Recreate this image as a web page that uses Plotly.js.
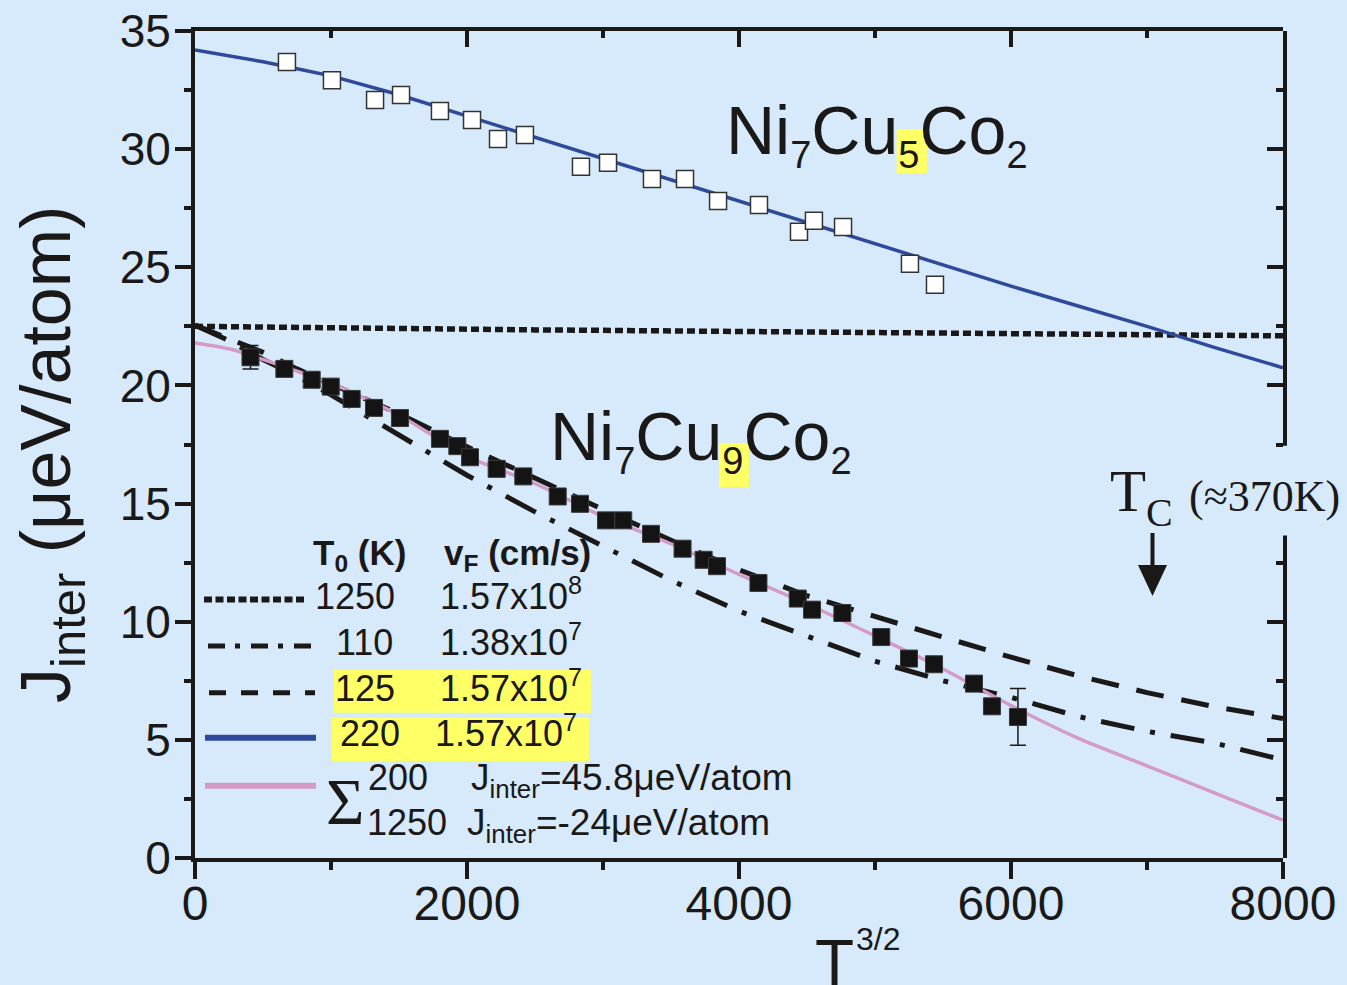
<!DOCTYPE html>
<html><head><meta charset="utf-8">
<script src="https://cdn.plot.ly/plotly-3.0.1.min.js"></script>
<style>html,body{margin:0;padding:0;background:rgb(214,234,252);} #chart{width:1347px;height:985px;}</style>
</head><body><div id="chart"></div>
<script>
// ---------------- data ----------------
const fitT32  = [0,250,500,750,1000,1500,2000,2500,3000,3500,4000,4500,5000,5500,6000,6500,7000,7500,8000];
const fit1250 = [22.50,22.48,22.46,22.45,22.43,22.40,22.37,22.35,22.33,22.31,22.29,22.27,22.25,22.23,22.21,22.18,22.15,22.12,22.10];
const fit110  = [22.55,21.9,21.1,20.4,19.6,17.9,16.2,14.65,13.2,11.75,10.45,9.4,8.33,7.5,6.8,5.98,5.36,4.86,4.15];
const fit125  = [22.55,22.0,21.4,20.7,20.05,18.8,17.4,16.05,14.75,13.45,12.2,11.1,10.2,9.35,8.5,7.7,7.0,6.4,5.9];
const fit220  = [34.2,33.95,33.7,33.4,33.1,32.3,31.4,30.5,29.6,28.7,27.8,26.9,26.0,25.1,24.2,23.35,22.5,21.6,20.75];
const fitSum  = [21.8,21.55,21.1,20.6,20.1,18.75,17.0,15.85,14.45,13.3,12.0,10.75,9.4,8.0,6.45,5.05,3.9,2.75,1.6];

const cu5T32 = [676,1007,1324,1515,1801,2037,2228,2426,2838,3037,3360,3603,3846,4147,4441,4551,4765,5257,5441];
const cu5J   = [33.69,32.92,32.08,32.29,31.61,31.23,30.43,30.60,29.25,29.42,28.74,28.74,27.81,27.64,26.50,26.97,26.71,25.15,24.26];

const cu9T32 = [408,657,858,998,1152,1316,1507,1801,1929,2022,2218,2414,2667,2831,3022,3149,3353,3585,3740,3838,4143,4432,4537,4760,5046,5250,5434,5728,5860,6051];
const cu9J   = [21.19,20.70,20.24,19.95,19.43,19.05,18.62,17.74,17.43,16.96,16.47,16.15,15.30,14.99,14.29,14.29,13.72,13.09,12.62,12.35,11.64,10.98,10.51,10.37,9.35,8.44,8.20,7.38,6.42,5.97];
const cu9Err = [0.5,NaN,NaN,NaN,NaN,NaN,NaN,NaN,NaN,NaN,NaN,NaN,NaN,NaN,NaN,NaN,NaN,NaN,NaN,NaN,NaN,NaN,NaN,NaN,NaN,NaN,NaN,NaN,NaN,1.2];

const yTickVals = [0,5,10,15,20,25,30,35];
const yTickText = ['0','5','10','15','20','25','30','35'];
const xTickVals = [0,2000,4000,6000,8000];
const xTickText = ['0','2000','4000','6000','8000'];
const rightMajor = [0,5,10,20,25,30,35];
const rightMinor = [2.5,7.5,12.5,17.5,22.5,27.5,32.5];

// ---------------- style / geometry ----------------
const BG = 'rgb(214,234,252)';
const INK = '#1b1818';
const BLUE = '#2f4a9b';
const PINK = '#d49bc6';
const YEL = '#ffff66';
const L = 195, R = 1283, T = 31, B = 858;
const px = p => (p - L) / (R - L);
const py = p => (B - p) / (B - T);

function txt(text, left, base, fs, o) {
  o = o || {};
  const serif = !!o.serif;
  const asc = serif ? 0.891 : 0.905, desc = serif ? 0.216 : 0.212;
  const hasSub = text.indexOf('<sub>') >= 0;
  return {
    text: text, xref: 'paper', yref: 'paper',
    x: px(left), y: py(hasSub ? base - asc * fs : base + desc * fs),
    xanchor: 'left', yanchor: hasSub ? 'top' : 'bottom',
    showarrow: false, borderpad: 0, borderwidth: 0,
    font: {family: serif ? 'Liberation Serif' : 'Liberation Sans', size: fs, color: INK, weight: o.bold ? 'bold' : 'normal'}
  };
}
function hline(x0, x1, y, color, width, dash) {
  return {type: 'line', xref: 'paper', yref: 'paper', x0: px(x0), x1: px(x1), y0: py(y), y1: py(y),
          line: {color: color, width: width, dash: dash || 'solid'}, layer: 'above'};
}
function rect(x0, y0, x1, y1) {
  return {type: 'rect', xref: 'paper', yref: 'paper', x0: px(x0), x1: px(x1), y0: py(y1), y1: py(y0),
          fillcolor: YEL, line: {width: 0}, layer: 'above'};
}

const traces = [
  {x: fitT32, y: fit1250, mode: 'lines', line: {color: INK, width: 5.5, dash: '8px,4px'}, hoverinfo: 'skip'},
  {x: fitT32, y: fit110, mode: 'lines', line: {color: INK, width: 5, dash: '34px,16px,5px,16px'}, hoverinfo: 'skip'},
  {x: fitT32, y: fit125, mode: 'lines', line: {color: INK, width: 5, dash: '28px,18px'}, hoverinfo: 'skip'},
  {x: fitT32, y: fitSum, mode: 'lines', line: {color: PINK, width: 3.5, shape: 'spline', smoothing: 0.6}, hoverinfo: 'skip'},
  {x: fitT32, y: fit220, mode: 'lines', line: {color: BLUE, width: 3.5}, hoverinfo: 'skip'},
  {x: cu5T32, y: cu5J, mode: 'markers', marker: {symbol: 'square', size: 17, color: 'white', line: {color: '#333', width: 1.5}}},
  {x: cu9T32, y: cu9J, mode: 'markers', marker: {symbol: 'square', size: 17, color: '#141414', line: {color: '#3a3a3a', width: 1}},
   error_y: {type: 'data', array: cu9Err, visible: true, color: INK, thickness: 1.5, width: 8}},
  {x: [0], y: [0], xaxis: 'x2', yaxis: 'y2', mode: 'markers', marker: {opacity: 0}, hoverinfo: 'skip'}
];

const layout = {
  width: 1347, height: 985,
  margin: {l: L, r: 1347 - R, t: T, b: 985 - B, pad: 0},
  paper_bgcolor: BG, plot_bgcolor: BG,
  showlegend: false,
  xaxis: {range: [0, 8000], tickvals: xTickVals, ticktext: xTickText, ticks: 'outside', ticklen: 17, tickwidth: 4, tickcolor: INK,
          minor: {dtick: 1000, ticks: 'outside', ticklen: 8, tickwidth: 4, tickcolor: INK}, ticklabelstandoff: -17,
          showline: true, linewidth: 4, linecolor: INK, showgrid: false, zeroline: false,
          tickfont: {family: 'Liberation Sans', size: 48, color: INK}, fixedrange: true},
  yaxis: {range: [0, 35], tickvals: yTickVals, ticktext: yTickText, ticks: 'outside', ticklen: 16, tickwidth: 4, tickcolor: INK,
          minor: {dtick: 2.5, ticks: 'outside', ticklen: 7, tickwidth: 4, tickcolor: INK}, ticklabelstandoff: -5,
          showline: true, linewidth: 4, linecolor: INK, showgrid: false, zeroline: false,
          tickfont: {family: 'Liberation Sans', size: 46, color: INK}, fixedrange: true},
  xaxis2: {overlaying: 'x', side: 'top', anchor: 'y', range: [0, 8000], dtick: 2000, ticks: 'inside', ticklen: 16, tickwidth: 4, tickcolor: INK,
           minor: {dtick: 1000, ticks: 'inside', ticklen: 7, tickwidth: 4, tickcolor: INK},
           showticklabels: false, showline: true, linewidth: 4, linecolor: INK, showgrid: false, zeroline: false},
  yaxis2: {overlaying: 'y', side: 'right', anchor: 'x', range: [0, 35], tickvals: rightMajor, ticks: 'inside', ticklen: 16, tickwidth: 4, tickcolor: INK,
           minor: {tickvals: rightMinor, ticks: 'inside', ticklen: 7, tickwidth: 4, tickcolor: INK},
           showticklabels: false, showline: false, showgrid: false, zeroline: false},
  shapes: [
    // right axis line with a gap for the T_C label
    {type: 'line', xref: 'paper', yref: 'y', x0: 1 + 2 / (R - L), x1: 1 + 2 / (R - L), y0: 17.45, y1: 35.1, line: {color: INK, width: 4}, layer: 'above'},
    {type: 'line', xref: 'paper', yref: 'y', x0: 1 + 2 / (R - L), x1: 1 + 2 / (R - L), y0: -0.1, y1: 13.65, line: {color: INK, width: 4}, layer: 'above'},
    // T_C arrow
    {type: 'line', xref: 'paper', yref: 'paper', x0: px(1152.5), x1: px(1152.5), y0: py(533), y1: py(568), line: {color: INK, width: 4}, layer: 'above'},
    {type: 'path', xref: 'paper', yref: 'paper', path: 'M ' + px(1138) + ' ' + py(565) + ' L ' + px(1167) + ' ' + py(565) + ' L ' + px(1152.5) + ' ' + py(596) + ' Z',
     fillcolor: INK, line: {width: 0}, layer: 'above'},
    // yellow highlights
    rect(896.7, 129, 927, 173),
    rect(719, 443, 749, 487),
    rect(334, 670, 591, 712.7),
    rect(331.7, 717.7, 589, 761),
    // legend line samples
    hline(204, 307, 599.5, INK, 6, '8px,3.5px'),
    hline(208, 313, 646, INK, 5, '17px,10px,5px,11px'),
    hline(209, 315, 692.7, INK, 5, '17px,15px'),
    hline(205, 316, 737.7, BLUE, 6),
    hline(205, 316, 785.7, PINK, 6)
  ],
  annotations: [
    txt('Ni<sub><span style="font-size:38px">7</span></sub>Cu<sub><span style="font-size:38px">5</span></sub>Co<sub><span style="font-size:38px">2</span></sub>', 726, 154, 68),
    txt('Ni<sub><span style="font-size:38px">7</span></sub>Cu<sub><span style="font-size:38px">9</span></sub>Co<sub><span style="font-size:38px">2</span></sub>', 550, 460, 68),
    txt('T', 1110, 511.7, 59, {serif: true}),
    txt('C', 1146, 526.7, 40, {serif: true}),
    txt('(≈370K)', 1189, 511.7, 44, {serif: true}),
    txt('<b>T<sub>0</sub> (K)</b>', 313, 565, 35, {bold: true}),
    txt('<b>v<sub>F</sub> (cm/s)</b>', 444, 565, 35, {bold: true}),
    txt('1250', 315, 609, 36),
    txt('1.57x10<sup>8</sup>', 440, 609, 36),
    txt('110', 336, 655, 36),
    txt('1.38x10<sup>7</sup>', 440, 655, 36),
    txt('125', 335, 701, 36),
    txt('1.57x10<sup>7</sup>', 440, 701, 36),
    txt('220', 340, 746, 36),
    txt('1.57x10<sup>7</sup>', 435, 746, 36),
    txt('Σ', 326, 824, 66, {serif: true}),
    txt('200', 368, 790, 36),
    txt('1250', 367, 835, 36),
    txt('J<sub>inter</sub>=45.8μeV/atom', 471, 790, 37),
    txt('J<sub>inter</sub>=-24μeV/atom', 467, 835, 37),
    // axis titles
    {text: 'J<sub>inter</sub> (μeV/atom)', textangle: -90, xref: 'paper', yref: 'paper', x: px(51), y: py(455), xanchor: 'center', yanchor: 'middle',
     showarrow: false, borderpad: 0, borderwidth: 0, font: {family: 'Liberation Sans', size: 70, color: INK}},
    txt('T', 815, 985, 64),
    txt('3/2', 855.5, 950, 32)
  ]
};

Plotly.newPlot('chart', traces, layout, {displayModeBar: false, staticPlot: true});
</script>
</body></html>
